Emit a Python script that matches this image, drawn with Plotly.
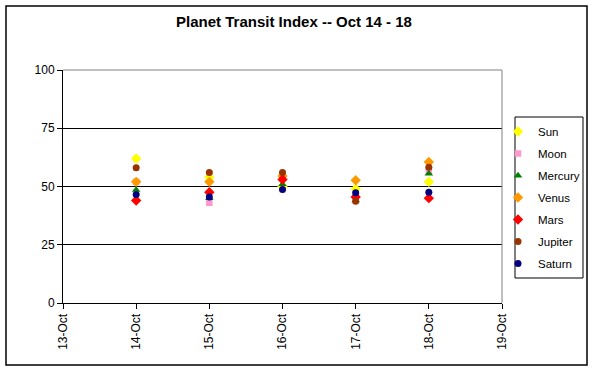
import plotly.graph_objects as go

dates = ["2008-10-14", "2008-10-15", "2008-10-16", "2008-10-17", "2008-10-18"]
sun = [62, 54, 50, 49, 52]
moon = [52, 43, 54, 45.5, 56.5]
mercury = [48.5, 45, 51, 44, 55.5]
venus = [52, 52, 54.5, 52.7, 60.5]
mars = [44, 47.5, 53, 45.5, 45]
jupiter = [58, 56, 56, 43.7, 58.3]
saturn = [46.6, 45.5, 48.7, 47.3, 47.5]

series = [
    ("Sun", sun, "#FFFF00", "diamond", 8),
    ("Moon", moon, "#FF99CC", "square", 6.5),
    ("Mercury", mercury, "#008000", "triangle-up", 7.5),
    ("Venus", venus, "#FF9900", "diamond", 8),
    ("Mars", mars, "#FF0000", "diamond", 8),
    ("Jupiter", jupiter, "#993300", "circle", 7),
    ("Saturn", saturn, "#000080", "circle", 7),
]

fig = go.Figure()
for name, vals, color, sym, sz in series:
    fig.add_trace(go.Scatter(
        x=dates, y=vals, mode="markers", name=name, legendgroup=name,
        marker=dict(color=color, symbol=sym, size=sz, line=dict(width=0)),
    ))

W, H = 594, 372
L, R, T, B = 63, 502, 70, 303


def fx(x):
    return x / W


def fy(y):
    return (H - y) / H


fig.update_layout(
    width=W, height=H,
    margin=dict(l=0, r=0, t=0, b=0, autoexpand=False),
    paper_bgcolor="white", plot_bgcolor="white",
    font=dict(family="Liberation Sans, Arial, sans-serif", size=12, color="black"),
    title=dict(text="<b>Planet Transit Index -- Oct 14 - 18</b>", x=fx(294), xref="paper",
               xanchor="center", y=1 - 22 / H, yref="container", yanchor="middle",
               font=dict(size=15, color="black")),
    showlegend=True,
    legend=dict(x=fx(498), y=fy(117), xanchor="left", yanchor="top",
                borderwidth=0, bgcolor="rgba(0,0,0,0)",
                font=dict(size=11.5), tracegroupgap=3, itemwidth=30),
    xaxis=dict(domain=[fx(L), fx(R)], type="date", range=["2008-10-13", "2008-10-19"],
               dtick=86400000, tick0="2008-10-13", tickformat="%-d-%b",
               tickangle=-90, ticks="outside", ticklen=5, tickcolor="black",
               showgrid=False, showline=True, linecolor="black", linewidth=1,
               zeroline=False, tickfont=dict(size=12), automargin=False),
    yaxis=dict(domain=[fy(B), fy(T)], range=[0, 100], dtick=25, tick0=0,
               ticks="outside", ticklen=5,
               tickcolor="black", showgrid=True, gridcolor="black", gridwidth=1,
               showline=True, linecolor="black", linewidth=1, zeroline=False,
               tickfont=dict(size=12), automargin=False),
)

# plot area border (top and right, gray)
fig.add_shape(type="line", xref="x domain", yref="y domain", x0=0, x1=1, y0=1, y1=1,
              line=dict(color="#808080", width=1))
fig.add_shape(type="line", xref="x domain", yref="y domain", x0=1, x1=1, y0=0, y1=1,
              line=dict(color="#808080", width=1))
# legend box
fig.add_shape(type="rect", xref="paper", yref="paper",
              x0=fx(515), x1=fx(583), y0=fy(278), y1=fy(117),
              line=dict(color="black", width=1), fillcolor="white", layer="below")
# outer chart border
fig.add_shape(type="rect", xref="paper", yref="paper",
              x0=fx(6), x1=fx(587), y0=fy(365), y1=fy(6),
              line=dict(color="black", width=1.5), layer="below")

fig.write_html("out.html",
               config={"displayModeBar": False},
               post_script="document.body.style.margin='0px';document.body.style.overflow='hidden';")
